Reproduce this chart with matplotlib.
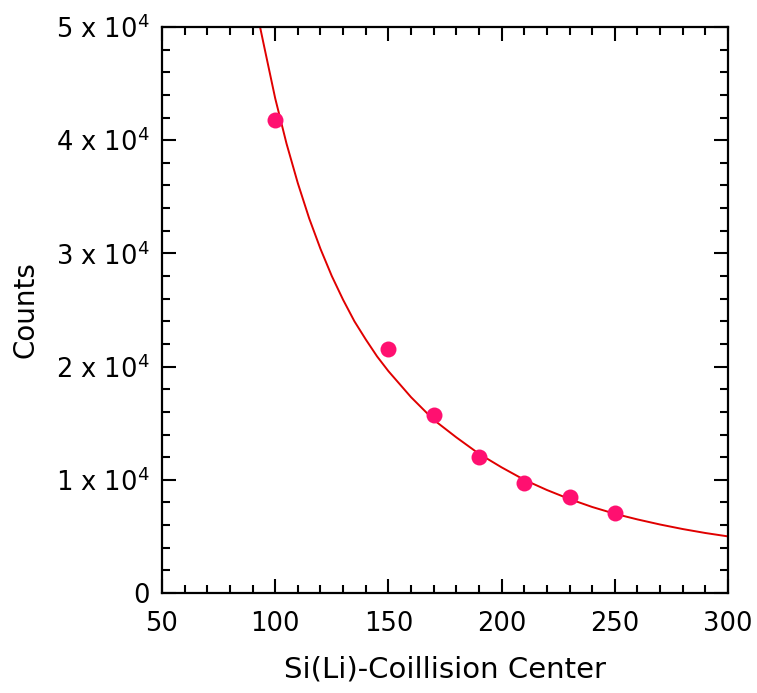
import matplotlib
matplotlib.use("Agg")
import matplotlib.pyplot as plt
from matplotlib.ticker import MultipleLocator, FixedLocator, FixedFormatter

# measured points
distance = [100, 150, 170, 190, 210, 230, 250]
counts = [41800, 21550, 15700, 12000, 9700, 8450, 7050]

# fit curve
fit_x = [93, 95, 100, 105, 110, 115, 120, 125, 130, 135, 140, 145, 150, 160, 170,
         180, 190, 200, 210, 220, 230, 240, 250, 260, 270, 280, 290, 300]
fit_y = [50300, 48400, 43700, 39700, 36200, 33100, 30400, 28000, 25900, 24000,
         22400, 20900, 19600, 17300, 15300, 13750, 12300, 11100, 10000, 9100,
         8300, 7600, 7000, 6500, 6050, 5650, 5300, 5000]

ytick_vals = [0, 10000, 20000, 30000, 40000, 50000]
ytick_labels = ["0", "1 x 10$^4$", "2 x 10$^4$", "3 x 10$^4$", "4 x 10$^4$", "5 x 10$^4$"]

plt.rcParams['font.family'] = ['DejaVu Sans']
plt.rcParams['mathtext.fontset'] = 'dejavusans'

fig = plt.figure(figsize=(7.57, 6.93), dpi=100)
ax = fig.add_axes([0.214, 0.1443, 0.7477, 0.8167])

ax.plot(fit_x, fit_y, color='#e00000', lw=1.4, zorder=2)
ax.plot(distance, counts, 'o', color='#ff1070', markersize=11.5, markeredgewidth=0, zorder=3)

ax.set_xlim(50, 300)
ax.set_ylim(0, 50000)
ax.xaxis.set_major_locator(MultipleLocator(50))
ax.xaxis.set_minor_locator(MultipleLocator(10))
ax.yaxis.set_major_locator(FixedLocator(ytick_vals))
ax.yaxis.set_major_formatter(FixedFormatter(ytick_labels))
ax.yaxis.set_minor_locator(MultipleLocator(2000))

ax.tick_params(which='both', direction='in', top=True, right=True, width=1.5,
               labelsize=18.5, colors='black')
ax.tick_params(which='major', length=10)
ax.tick_params(which='minor', length=5.5)
ax.tick_params(axis='x', which='major', pad=13)
ax.tick_params(axis='y', which='major', pad=9)
for s in ax.spines.values():
    s.set_linewidth(1.6)

ax.set_xlabel('Si(Li)-Coillision Center', fontsize=21, labelpad=13)
ax.set_ylabel('Counts', fontsize=20, labelpad=12)

fig.savefig('out.png', dpi=100)
